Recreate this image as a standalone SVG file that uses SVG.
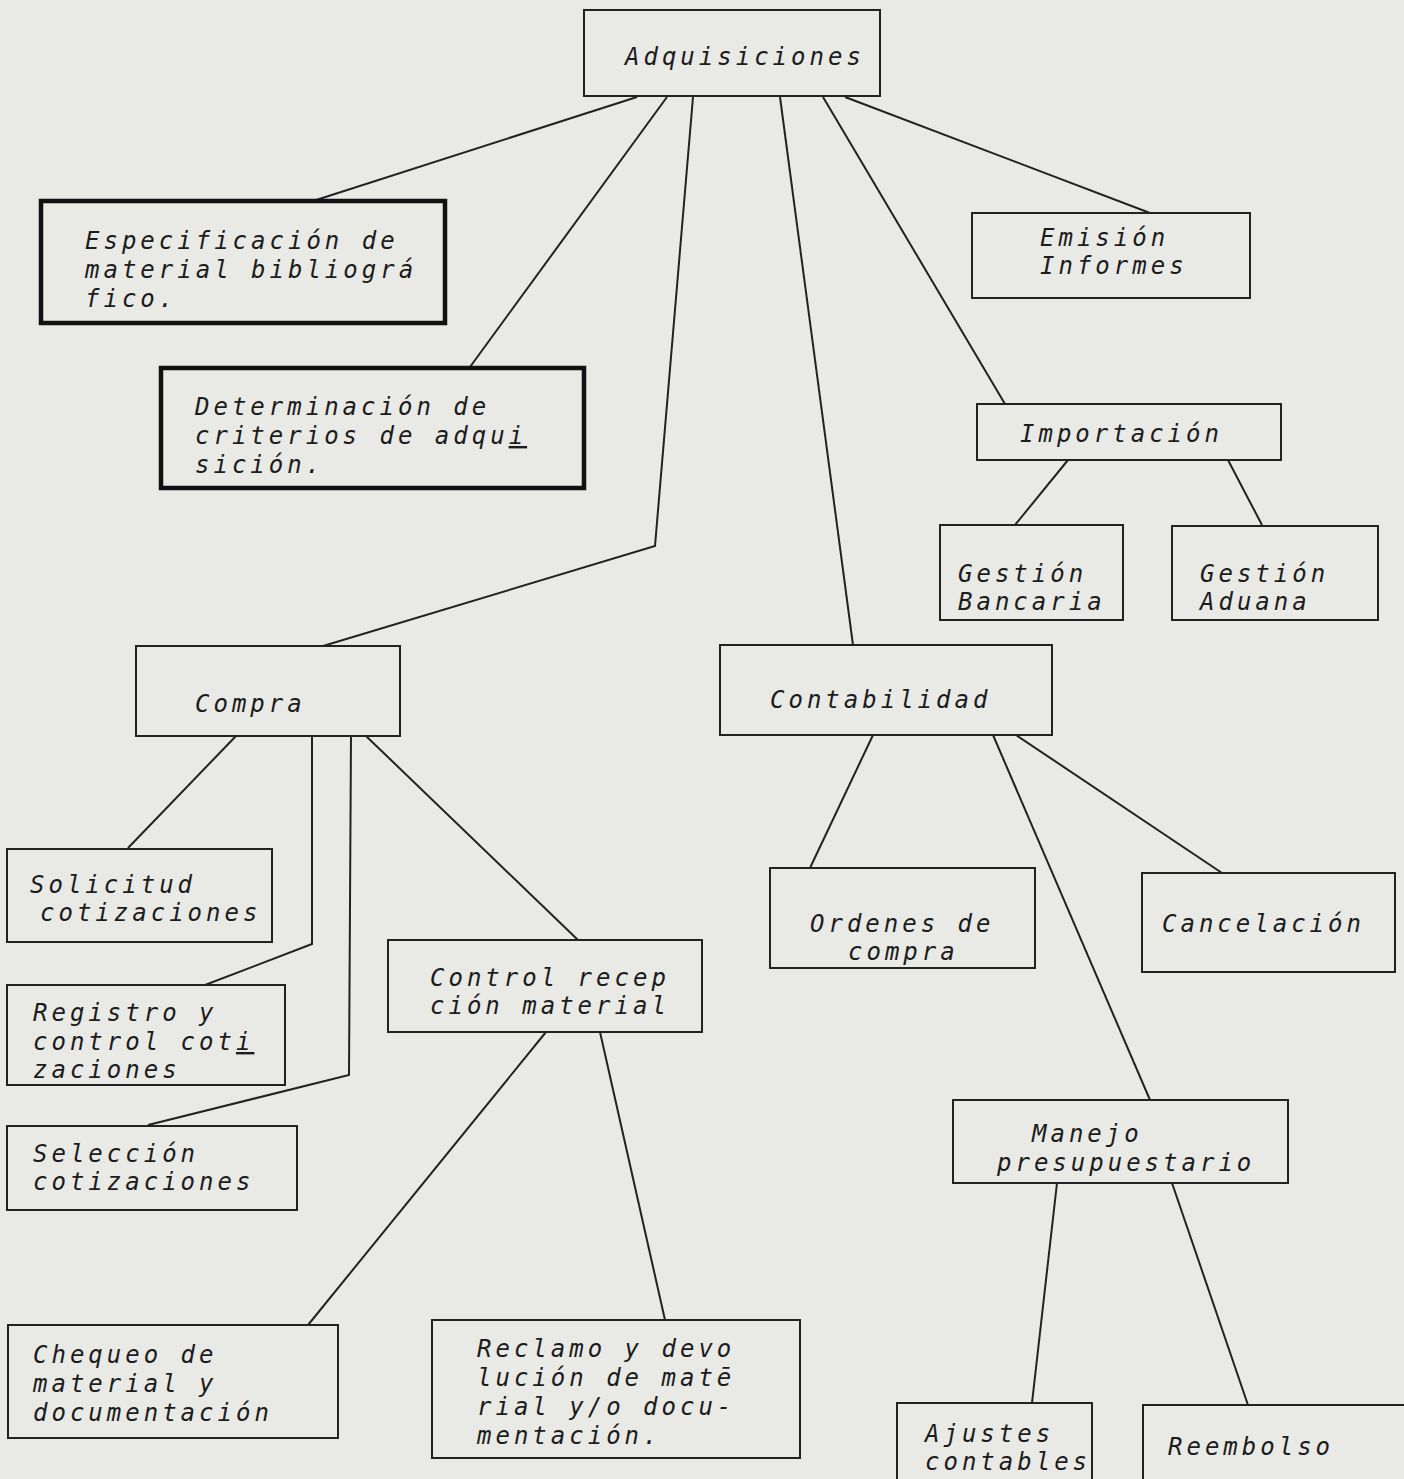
<svg xmlns="http://www.w3.org/2000/svg" width="1404" height="1479" viewBox="0 0 1404 1479">
<style>
.bg{fill:#e9e9e6}
.box{fill:none;stroke:#222;stroke-width:2}
.thick{fill:none;stroke:#111;stroke-width:4.5}
.c{fill:none;stroke:#222;stroke-width:2}
.u{text-decoration:underline}
text{font-family:"DejaVu Sans Mono","Liberation Mono",monospace;font-style:oblique;font-size:24px;letter-spacing:4px;fill:#1c1c1c}
</style>
<rect class="bg" x="0" y="0" width="1404" height="1479"/>
<g id="connectors">
<line class="c" x1="637" y1="97" x2="313" y2="201"/>
<line class="c" x1="667" y1="97" x2="470" y2="367"/>
<polyline class="c" points="693,97 655,546 323,646"/>
<line class="c" x1="780" y1="97" x2="853" y2="645"/>
<line class="c" x1="823" y1="97" x2="1005" y2="404"/>
<line class="c" x1="845" y1="97" x2="1150" y2="213"/>
<line class="c" x1="1068" y1="460" x2="1015" y2="525"/>
<line class="c" x1="1228" y1="460" x2="1262" y2="525"/>
<line class="c" x1="236" y1="736" x2="128" y2="848"/>
<polyline class="c" points="312,736 312,944 205,985"/>
<polyline class="c" points="351,736 349,1075 148,1125"/>
<line class="c" x1="366" y1="736" x2="578" y2="940"/>
<line class="c" x1="546" y1="1032" x2="308" y2="1325"/>
<line class="c" x1="600" y1="1032" x2="665" y2="1320"/>
<line class="c" x1="873" y1="735" x2="810" y2="868"/>
<line class="c" x1="993" y1="735" x2="1150" y2="1100"/>
<line class="c" x1="1016" y1="735" x2="1222" y2="873"/>
<line class="c" x1="1057" y1="1183" x2="1032" y2="1403"/>
<line class="c" x1="1172" y1="1183" x2="1248" y2="1405"/>
</g>
<g id="adquisiciones"><rect class="box" x="584" y="10" width="296" height="86"/><text x="625" y="65">Adquisiciones</text></g>
<g id="especificacion"><rect class="thick" x="41" y="201" width="404" height="122"/><text x="85" y="249">Especificación de</text><text x="85" y="278">material bibliográ</text><text x="85" y="307">fico.</text></g>
<g id="determinacion"><rect class="thick" x="161" y="368" width="423" height="120"/><text x="195" y="415">Determinación de</text><text x="195" y="444">criterios de adqu<tspan class="u">i</tspan></text><text x="195" y="473">sición.</text></g>
<g id="emision"><rect class="box" x="972" y="213" width="278" height="85"/><text x="1040" y="246">Emisión</text><text x="1040" y="274">Informes</text></g>
<g id="importacion"><rect class="box" x="977" y="404" width="304" height="56"/><text x="1020" y="442">Importación</text></g>
<g id="gestion-bancaria"><rect class="box" x="940" y="525" width="183" height="95"/><text x="958" y="582">Gestión</text><text x="958" y="610">Bancaria</text></g>
<g id="gestion-aduana"><rect class="box" x="1172" y="526" width="206" height="94"/><text x="1200" y="582">Gestión</text><text x="1200" y="610">Aduana</text></g>
<g id="compra"><rect class="box" x="136" y="646" width="264" height="90"/><text x="195" y="712">Compra</text></g>
<g id="contabilidad"><rect class="box" x="720" y="645" width="332" height="90"/><text x="770" y="708">Contabilidad</text></g>
<g id="solicitud"><rect class="box" x="7" y="849" width="265" height="93"/><text x="30" y="893">Solicitud</text><text x="40" y="921">cotizaciones</text></g>
<g id="registro"><rect class="box" x="7" y="985" width="278" height="100"/><text x="33" y="1021">Registro y</text><text x="33" y="1050">control cot<tspan class="u">i</tspan></text><text x="33" y="1078">zaciones</text></g>
<g id="seleccion"><rect class="box" x="7" y="1126" width="290" height="84"/><text x="33" y="1162">Selección</text><text x="33" y="1190">cotizaciones</text></g>
<g id="control-recepcion"><rect class="box" x="388" y="940" width="314" height="92"/><text x="430" y="986">Control recep</text><text x="430" y="1014">ción material</text></g>
<g id="ordenes"><rect class="box" x="770" y="868" width="265" height="100"/><text x="810" y="932">Ordenes de</text><text x="848" y="960">compra</text></g>
<g id="cancelacion"><rect class="box" x="1142" y="873" width="253" height="99"/><text x="1162" y="932">Cancelación</text></g>
<g id="manejo"><rect class="box" x="953" y="1100" width="335" height="83"/><text x="1032" y="1142">Manejo</text><text x="997" y="1171">presupuestario</text></g>
<g id="chequeo"><rect class="box" x="8" y="1325" width="330" height="113"/><text x="33" y="1363">Chequeo de</text><text x="33" y="1392">material y</text><text x="33" y="1421">documentación</text></g>
<g id="reclamo"><rect class="box" x="432" y="1320" width="368" height="138"/><text x="477" y="1357">Reclamo y devo</text><text x="477" y="1386">lución de matē</text><text x="477" y="1415">rial y/o docu-</text><text x="477" y="1444">mentación.</text></g>
<g id="ajustes"><rect class="box" x="897" y="1403" width="195" height="80"/><text x="925" y="1442">Ajustes</text><text x="925" y="1470">contables</text></g>
<g id="reembolso"><rect class="box" x="1143" y="1405" width="265" height="80"/><text x="1168" y="1455">Reembolso</text></g>
</svg>
